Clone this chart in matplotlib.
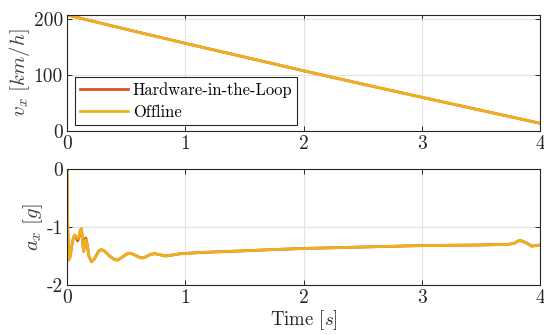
import matplotlib
matplotlib.use('Agg')
import matplotlib.pyplot as plt

# velocity [km/h]
t_vel = [0.0, 0.5, 1.0, 1.5, 2.0, 2.5, 3.0, 3.5, 4.0]
vel_hil = [207.5, 182.0, 157.0, 132.5, 108.0, 84.2, 60.7, 37.5, 14.3]
vel_off = [207.5, 182.0, 157.0, 132.5, 108.0, 84.2, 60.7, 37.5, 14.3]

# longitudinal acceleration [g]
t_acc = [0.0, 0.006, 0.014, 0.025, 0.04, 0.055, 0.065, 0.078, 0.09, 0.102,
         0.112, 0.122, 0.131, 0.14, 0.15, 0.159, 0.17, 0.185, 0.207, 0.228,
         0.25, 0.27, 0.29, 0.32, 0.36, 0.40, 0.43, 0.46, 0.50, 0.53, 0.56,
         0.59, 0.62, 0.65, 0.68, 0.71, 0.745, 0.79, 0.83, 0.9, 0.96, 1.13,
         1.5, 1.73, 2.0, 2.5, 3.0, 3.5, 3.73, 3.78, 3.83, 3.88, 3.93, 4.0]
acc_off = [0.0, -1.0, -1.57, -1.52, -1.33, -1.18, -1.14, -1.16, -1.2, -1.15,
           -1.05, -1.03, -1.2, -1.42, -1.3, -1.22, -1.3, -1.5, -1.6, -1.56,
           -1.48, -1.41, -1.39, -1.42, -1.5, -1.56, -1.57, -1.53, -1.47, -1.45,
           -1.47, -1.5, -1.53, -1.53, -1.5, -1.47, -1.46, -1.48, -1.5, -1.48,
           -1.46, -1.44, -1.41, -1.39, -1.37, -1.345, -1.32, -1.31, -1.3,
           -1.28, -1.23, -1.27, -1.33, -1.31]
acc_hil = [0.0, -1.0, -1.57, -1.52, -1.33, -1.18, -1.14, -1.18, -1.24, -1.17,
           -1.06, -1.03, -1.22, -1.42, -1.27, -1.19, -1.3, -1.5, -1.6, -1.56,
           -1.48, -1.41, -1.39, -1.42, -1.5, -1.56, -1.57, -1.53, -1.47, -1.45,
           -1.47, -1.5, -1.53, -1.53, -1.5, -1.47, -1.46, -1.48, -1.5, -1.48,
           -1.46, -1.44, -1.41, -1.39, -1.37, -1.345, -1.32, -1.31, -1.3,
           -1.28, -1.23, -1.27, -1.33, -1.31]

x_ticks = [0, 1, 2, 3, 4]
x_labels = ['0', '1', '2', '3', '4']
v_ticks = [0, 100, 200]
v_labels = ['0', '100', '200']
a_ticks = [-2, -1, 0]
a_labels = ['-2', '-1', '0']

plt.rcParams['font.family'] = 'serif'
plt.rcParams['font.serif'] = ['cmr10']
plt.rcParams['mathtext.fontset'] = 'cm'
plt.rcParams['axes.unicode_minus'] = False

c_hil = '#D95319'
c_off = '#EDB120'
dark = '#262626'

fig = plt.figure(figsize=(5.44, 3.34), dpi=100)
ax1 = fig.add_axes([0.1232, 0.6069, 0.8695, 0.3482])
ax2 = fig.add_axes([0.1232, 0.1467, 0.8695, 0.3473])

ax1.plot(t_vel, vel_hil, color=c_hil, lw=2, label='Hardware-in-the-Loop')
ax1.plot(t_vel, vel_off, color=c_off, lw=2, label='Offline')
ax2.plot(t_acc, acc_hil, color=c_hil, lw=2)
ax2.plot(t_acc, acc_off, color=c_off, lw=2)

ax1.set_ylim(0, 207.5)
ax2.set_ylim(-2, 0)
ax1.set_yticks(v_ticks, v_labels)
ax2.set_yticks(a_ticks, a_labels)

for ax in (ax1, ax2):
    ax.set_xlim(0, 4)
    ax.set_xticks(x_ticks, x_labels)
    ax.grid(True, color='#e3e3e3', lw=0.8)
    ax.set_axisbelow(True)
    ax.tick_params(direction='in', top=True, right=True, length=3.5,
                   width=0.7, colors=dark, labelsize=14, pad=3)
    for s in ax.spines.values():
        s.set_color(dark)
        s.set_linewidth(0.8)

ax1.set_ylabel(r'$v_x\ [km/h]$', fontsize=15, color='#404040', labelpad=1)
ax2.set_ylabel(r'$a_x\ [g]$', fontsize=15, color='#404040', labelpad=1)
ax2.set_xlabel(r'Time $[s]$', fontsize=13.5, color=dark, labelpad=1)

leg = ax1.legend(loc='lower left', bbox_to_anchor=(0.017, 0.054),
                 borderaxespad=0, fontsize=11.9, fancybox=False,
                 edgecolor=dark, framealpha=1, handlelength=2.9,
                 handletextpad=0.3, labelspacing=0.4, borderpad=0.3)
leg.get_frame().set_linewidth(0.8)

fig.savefig('out.png', dpi=100)
